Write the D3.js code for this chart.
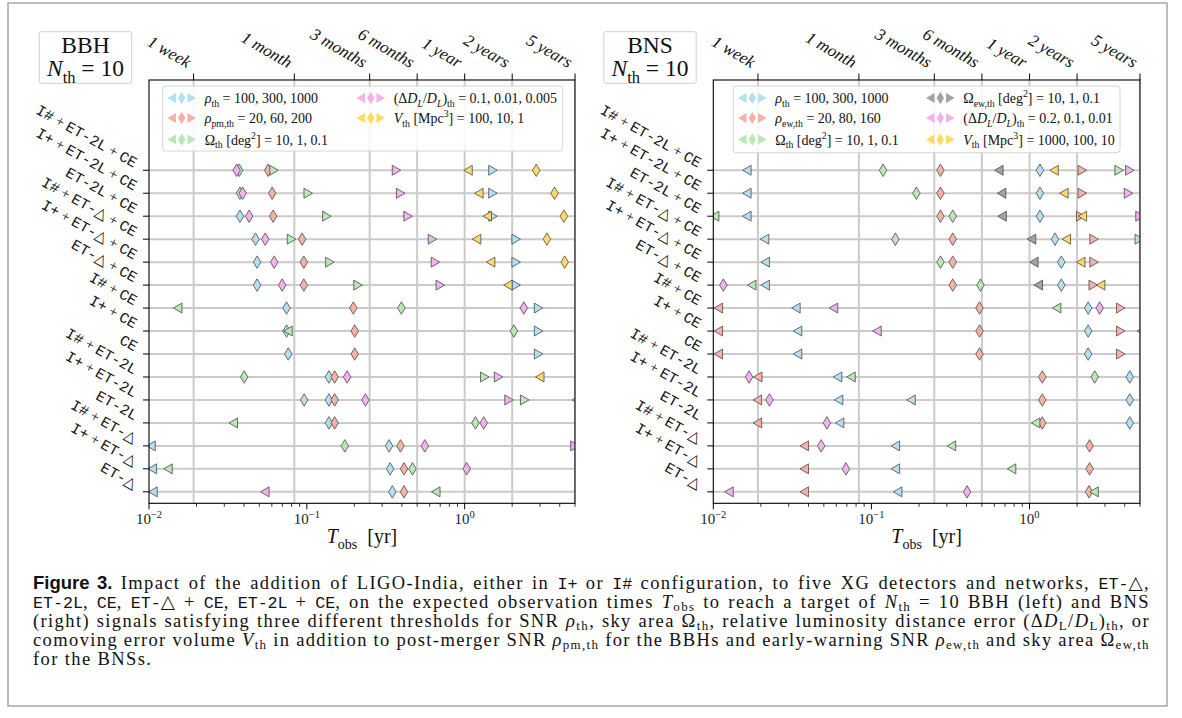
<!DOCTYPE html>
<html><head><meta charset="utf-8">
<script src="https://cdn.jsdelivr.net/npm/d3@7"></script>
<style>body{margin:0;background:#fff}</style>
</head><body><svg id="c" width="1182" height="718"></svg>
<script>
// ---------------- data ----------------
const rows = ["I# + ET-2L + CE", "I+ + ET-2L + CE", "ET-2L + CE", "I# + ET-△ + CE", "I+ + ET-△ + CE", "ET-△ + CE",
  "I# + CE", "I+ + CE", "CE", "I# + ET-2L", "I+ + ET-2L", "ET-2L", "I# + ET-△", "I+ + ET-△", "ET-△"];
const timeTicks = [7 / 365.25, 1 / 12, 0.25, 0.5, 1, 2, 5];
const timeLabels = ["1 week", "1 month", "3 months", "6 months", "1 year", "2 years", "5 years"];
const decadeTicks = [0.01, 0.1, 1];
const decadeLabels = ["10^{−2}", "10^{−1}", "10^{0}"];
const minorTicks = [0.02, 0.03, 0.04, 0.05, 0.06, 0.07, 0.08, 0.09, 0.2, 0.3, 0.4, 0.5, 0.6, 0.7, 0.8, 0.9, 2, 3, 4, 5];
const xDomain = [0.01, 5];

// BBH, each row: [first threshold (◁), second (◇), third (▷)], null = outside the plotted range
const bbhRho = [[null,0.0373,1.51],[null,0.0377,1.51],[null,0.0377,1.51],[null,0.0473,2.12],[null,0.0484,2.12],[null,0.0484,2.12],
  [null,0.0744,2.94],[null,0.0744,2.94],[null,0.0762,2.94],[null,0.138,null],[null,0.138,null],[null,0.138,null],
  [0.0103,0.332,null],[0.0105,0.337,null],[0.0106,0.348,null]];
const bbhRhoPm = [[null,0.0569,null],[null,0.0603,null],[null,0.0612,null],[null,0.0933,null],[null,0.0957,null],[null,0.0957,null],
  [null,0.197,null],[null,0.201,null],[null,0.201,null],[null,0.150,null],[null,0.150,null],[null,0.150,null],
  [null,0.392,null],[null,0.413,null],[null,0.413,null]];
const bbhOmega = [[null,null,0.062],[null,null,0.102],[null,null,0.134],[null,null,0.080],[null,null,0.140],[null,null,0.211],
  [0.0152,0.397,null],[0.076,2.05,null],[null,null,null],[null,0.0401,1.34],[null,0.0961,2.40],[0.0342,1.17,null],
  [null,0.174,null],[0.0132,0.467,null],[0.656,null,null]];
const bbhDL = [[null,0.0359,0.370],[null,0.0392,0.393],[null,0.0431,0.438],[null,0.0545,0.625],[null,0.0621,0.653],[null,0.0698,0.701],
  [null,2.37,null],[null,null,null],[null,null,null],[null,0.180,1.64],[null,0.235,1.91],[null,1.32,null],
  [null,0.559,5.0],[null,1.03,null],[0.0542,null,null]];
const bbhVol = [[1.05,2.84,null],[1.23,3.71,null],[1.39,4.25,null],[1.19,3.32,null],[1.46,4.30,null],[1.88,null,null],
  [null,null,null],[null,null,null],[null,null,null],[2.99,null,null],[5.1,null,null],[null,null,null],
  [null,null,null],[null,null,null],[null,null,null]];

// BNS
const bnsRho = [[0.0163,1.164,null],[0.0163,1.164,null],[0.0163,1.164,null],[0.0211,1.45,null],[0.0213,1.59,null],[0.0213,1.59,null],
  [0.0333,2.35,null],[0.0341,2.35,null],[0.0341,2.35,null],[0.0611,4.31,null],[0.0620,4.31,null],[0.0629,4.31,null],
  [0.1418,null,null],[0.1418,null,null],[0.1466,null,null]];
const bnsRhoEw = [[null,0.2733,2.16],[null,0.2733,2.16],[null,0.2733,2.11],[null,0.327,2.56],[null,0.327,2.56],[null,0.327,2.53],
  [0.01076,0.483,3.78],[0.01076,0.483,3.78],[0.01076,0.483,3.78],[0.0191,1.205,null],[0.0190,1.205,null],[0.0190,1.205,null],
  [0.0376,2.40,null],[0.0376,2.40,null],[0.0376,2.38,null]];
const bnsOmega = [[null,0.1185,3.69],[null,0.1926,null],[0.0102,0.327,null],[null,0.1418,4.95],[null,0.2733,null],[0.0175,0.490,null],
  [1.485,null,null],[5.1,null,null],[null,null,null],[0.0743,2.585,null],[0.178,null,null],[1.093,null,null],
  [0.321,null,null],[0.770,null,null],[2.56,null,null]];
const bnsOmegaEw = [[0.640,null,null],[0.666,null,null],[0.671,null,null],[1.03,null,null],[1.066,null,null],[1.137,null,null],
  [null,null,null],[null,null,null],[null,null,null],[null,null,null],[null,null,null],[null,null,null],
  [null,null,null],[null,null,null],[null,null,null]];
const bnsDL = [[null,null,4.31],[null,null,4.23],[null,null,5.0],[null,null,null],[null,null,null],[null,0.01157,null],
  [0.0576,2.78,null],[0.1085,null,null],[null,null,null],[null,0.01684,null],[null,0.02265,null],[null,0.0523,null],
  [null,0.0481,null],[null,0.069,null],[0.01257,0.403,null]];
const bnsVol = [[1.43,null,null],[1.65,null,null],[2.16,null,null],[1.71,null,null],[2.11,null,null],[2.82,null,null],
  [null,null,null],[null,null,null],[null,null,null],[null,null,null],[null,null,null],[null,null,null],
  [null,null,null],[null,null,null],[null,null,null]];

const bbhLegend = ["~ρ~_{th} = 100, 300, 1000", "~ρ~_{pm,th} = 20, 60, 200", "Ω_{th} [deg^{2}] = 10, 1, 0.1",
  "(Δ~D~_{~L~}/~D~_{~L~})_{th} = 0.1, 0.01, 0.005", "~V~_{th} [Mpc^{3}] = 100, 10, 1"];
const bnsLegend = ["~ρ~_{th} = 100, 300, 1000", "~ρ~_{ew,th} = 20, 80, 160", "Ω_{th} [deg^{2}] = 10, 1, 0.1",
  "Ω_{ew,th} [deg^{2}] = 10, 1, 0.1", "(Δ~D~_{~L~}/~D~_{~L~})_{th} = 0.2, 0.1, 0.01", "~V~_{th} [Mpc^{3}] = 1000, 100, 10"];

const caption = [
  "*Figure 3.* Impact of the addition of LIGO-India, either in `I+` or `I#` configuration, to five XG detectors and networks, `ET-`△,",
  "`ET-2L`, `CE`, `ET-`△ + `CE`, `ET-2L` + `CE`, on the expected observation times ~T~_{obs} to reach a target of ~N~_{th} = 10 BBH (left) and BNS",
  "(right) signals satisfying three different thresholds for SNR ~ρ~_{th}, sky area Ω_{th}, relative luminosity distance error (Δ~D~_{L}/~D~_{L})_{th}, or",
  "comoving error volume ~V~_{th} in addition to post-merger SNR ~ρ~_{pm,th} for the BBHs and early-warning SNR ~ρ~_{ew,th} and sky area Ω_{ew,th}",
  "for the BNSs."
];

// ---------------- style ----------------
const C = { blue: "#b3dff3", red: "#f8b2a5", green: "#b9e8b5", pink: "#f2b2f0", yellow: "#ffd966", grey: "#a3a3a3" };
const serif = "'Liberation Serif','DejaVu Serif',serif";
const sans = "'Liberation Sans','DejaVu Sans',sans-serif";
const mono = "'Liberation Mono','DejaVu Sans Mono',monospace";

const svg = d3.select("#c");

function parseMarkup(s, base = {}) {
  const out = []; let i = 0, buf = "";
  const flush = () => { if (buf) { out.push({ ...base, t: buf }); buf = ""; } };
  while (i < s.length) {
    const c = s[i];
    if ((c === "_" || c === "^") && s[i + 1] === "{") {
      flush();
      let depth = 0, j = i + 1;
      for (; j < s.length; j++) { if (s[j] === "{") depth++; else if (s[j] === "}") { depth--; if (depth === 0) break; } }
      out.push(...parseMarkup(s.slice(i + 2, j), { ...base, pos: c === "_" ? "sub" : "sup" }));
      i = j + 1;
    } else if (c === "~" || c === "`" || c === "*") {
      flush();
      const j = s.indexOf(c, i + 1);
      const key = c === "~" ? "it" : c === "`" ? "mono" : "bold";
      out.push(...parseMarkup(s.slice(i + 1, j), { ...base, [key]: true }));
      i = j + 1;
    } else { buf += c; i++; }
  }
  flush();
  return out;
}
function rich(t, str, fs, monoScale = 0.92, subShift = 0.28) {
  t.style("white-space", "pre");
  let cur = 0;
  parseMarkup(str).forEach(sg => {
    const target = sg.pos === "sub" ? subShift * fs : sg.pos === "sup" ? -0.4 * fs : 0;
    const ts = t.append("tspan").text(sg.t);
    if (target !== cur) { ts.attr("dy", target - cur); cur = target; }
    let size = sg.pos ? fs * 0.7 : fs;
    if (sg.mono) { ts.style("font-family", mono).style("letter-spacing", "0px"); size *= monoScale; }
    if (size !== fs) ts.style("font-size", size + "px");
    if (sg.it) ts.style("font-style", "italic");
    if (sg.bold) ts.style("font-weight", "bold").style("font-family", sans).style("letter-spacing", "0px");
  });
}
function markerPath(k) {
  const tw = 8.5, th = 10, dw = 7.5, dh = 12.5;
  if (k === 0) return `M${-tw / 2},0L${tw / 2},${-th / 2}L${tw / 2},${th / 2}Z`;
  if (k === 1) return `M0,${-dh / 2}L${dw / 2},0L0,${dh / 2}L${-dw / 2},0Z`;
  return `M${tw / 2},0L${-tw / 2},${-th / 2}L${-tw / 2},${th / 2}Z`;
}
function rowMarkup(r) {
  return r.split(" + ").map(p => p.replace(/([^△]+)/g, "`$1`")).join(" + ");
}

const yTop = 80, yBot = 503.3;
const y = d3.scaleLinear().domain([-0.5, 17.93]).range([yBot, yTop]);
const rowY = i => y(rows.length - 1 - i);

const panels = [
  { id: "bbh", x0: 149, x1: 575, title: "BBH", box: [39.3, 31.7, 92.4, 51.6],
    series: [[bbhRho, C.blue], [bbhRhoPm, C.red], [bbhOmega, C.green], [bbhDL, C.pink], [bbhVol, C.yellow]],
    legend: bbhLegend, legBox: [162.7, 86, 400, 65], col2: 189 },
  { id: "bns", x0: 713.3, x1: 1140, title: "BNS", box: [603.8, 31.7, 92.4, 51.6],
    series: [[bnsRho, C.blue], [bnsRhoEw, C.red], [bnsOmega, C.green], [bnsOmegaEw, C.grey], [bnsDL, C.pink], [bnsVol, C.yellow]],
    legend: bnsLegend, legBox: [733.3, 86, 386.7, 66.7], col2: 188 }
];

// outer frame
svg.append("rect").attr("x", 8).attr("y", 3).attr("width", 1159).attr("height", 703)
  .attr("fill", "none").attr("stroke", "#a6a6a6").attr("stroke-width", 1.5);

panels.forEach(P => {
  const x = d3.scaleLog().domain(xDomain).range([P.x0, P.x1]);
  const g = svg.append("g");
  const clipId = "clip-" + P.id;
  svg.append("clipPath").attr("id", clipId).append("rect")
    .attr("x", P.x0).attr("y", yTop).attr("width", P.x1 - P.x0).attr("height", yBot - yTop);

  // grid
  const grid = g.append("g").attr("stroke", "#cbcbcb").attr("stroke-width", 2).attr("clip-path", `url(#${clipId})`);
  grid.selectAll("line.v").data(timeTicks).join("line").attr("class", "v")
    .attr("x1", d => x(d)).attr("x2", d => x(d)).attr("y1", yTop).attr("y2", yBot);
  grid.selectAll("line.h").data(rows).join("line").attr("class", "h")
    .attr("x1", P.x0).attr("x2", P.x1).attr("y1", (d, i) => rowY(i)).attr("y2", (d, i) => rowY(i));

  // markers
  const pts = P.series.flatMap(([vals, color]) => vals.flatMap((r, ri) => r.map((val, k) => ({ val, k, ri, color }))))
    .filter(d => d.val != null);
  g.append("g").attr("clip-path", `url(#${clipId})`).selectAll("path").data(pts).join("path")
    .attr("d", d => markerPath(d.k))
    .attr("transform", d => `translate(${x(d.val)},${rowY(d.ri)})`)
    .attr("fill", d => d.color).attr("stroke", "#4a4a4a").attr("stroke-width", 0.8);

  // legend
  const [lx, ly, lw, lh] = P.legBox;
  const lg = g.append("g");
  lg.append("rect").attr("x", lx).attr("y", ly).attr("width", lw).attr("height", lh).attr("rx", 3)
    .attr("fill", "#fff").attr("fill-opacity", 0.85).attr("stroke", "#d6d6d6").attr("stroke-width", 1);
  const legRowY = [98, 118, 139.5];
  P.legend.forEach((lab, k) => {
    const col = Math.floor(k / 3), r = k % 3;
    const cx = lx + 19 + col * P.col2, cy = legRowY[r];
    [0, 1, 2].forEach(m => lg.append("path").attr("d", markerPath(m))
      .attr("transform", `translate(${cx + (m - 1) * 10},${cy})`).attr("fill", P.series[k][1]));
    const t = lg.append("text").attr("x", cx + 23).attr("y", cy + 5)
      .style("font-family", serif).style("font-size", "14px").attr("fill", "#111");
    rich(t, lab, 14);
  });

  // frame
  g.append("rect").attr("x", P.x0).attr("y", yTop).attr("width", P.x1 - P.x0).attr("height", yBot - yTop)
    .attr("fill", "none").attr("stroke", "#000").attr("stroke-width", 1.1);

  // ticks
  const ax = g.append("g").attr("stroke", "#000").attr("stroke-width", 1);
  ax.selectAll("line.maj").data(decadeTicks).join("line").attr("class", "maj")
    .attr("x1", d => x(d)).attr("x2", d => x(d)).attr("y1", yBot).attr("y2", yBot + 6);
  ax.selectAll("line.min").data(minorTicks).join("line").attr("class", "min")
    .attr("x1", d => x(d)).attr("x2", d => x(d)).attr("y1", yBot).attr("y2", yBot + 3.5).attr("stroke-width", 0.8);
  ax.selectAll("line.top").data(timeTicks).join("line").attr("class", "top")
    .attr("x1", d => x(d)).attr("x2", d => x(d)).attr("y1", yTop).attr("y2", yTop - 6.5);
  ax.selectAll("line.yt").data(rows).join("line").attr("class", "yt")
    .attr("x1", P.x0).attr("x2", P.x0 - 6).attr("y1", (d, i) => rowY(i)).attr("y2", (d, i) => rowY(i));

  decadeTicks.forEach((d, i) => {
    const t = g.append("text").attr("x", x(d)).attr("y", yBot + 21).attr("text-anchor", "middle")
      .style("font-family", serif).style("font-size", "15px").attr("fill", "#222");
    rich(t, decadeLabels[i], 15);
  });
  const at = g.append("text").attr("x", (P.x0 + P.x1) / 2).attr("y", 543).attr("text-anchor", "middle")
    .style("font-family", serif).style("font-size", "20px").attr("fill", "#111");
  rich(at, "~T~_{obs}  [yr]", 20);

  // top rotated labels
  timeTicks.forEach((d, i) => {
    const lgp = g.append("g");
    lgp.append("text").attr("transform", "rotate(30)").style("font-family", serif)
      .style("font-size", "17px").style("font-style", "italic").attr("fill", "#111").text(timeLabels[i]);
    const bb = lgp.node().getBBox();
    lgp.attr("transform", `translate(${x(d) + 1 - (bb.x + bb.width)},${yTop - 8 - (bb.y + bb.height)})`);
  });

  // y labels rotated
  rows.forEach((r, i) => {
    const lgp = g.append("g");
    const t = lgp.append("text").attr("transform", "rotate(29)").style("font-family", serif)
      .style("font-size", "15px").attr("fill", "#111");
    rich(t, rowMarkup(r), 15, 1);
    const bb = lgp.node().getBBox();
    lgp.attr("transform", `translate(${P.x0 - 9 - (bb.x + bb.width)},${rowY(i) + 2 - (bb.y + bb.height)})`);
  });

  // title box
  const [bx, by, bw, bh] = P.box;
  g.append("rect").attr("x", bx).attr("y", by).attr("width", bw).attr("height", bh).attr("rx", 2)
    .attr("fill", "#fff").attr("stroke", "#cfcfcf");
  g.append("text").attr("x", bx + bw / 2).attr("y", by + 21).attr("text-anchor", "middle")
    .style("font-family", serif).style("font-size", "23.5px").attr("fill", "#111").text(P.title);
  const nt = g.append("text").attr("x", bx + bw / 2).attr("y", by + 44.5).attr("text-anchor", "middle")
    .style("font-family", serif).style("font-size", "23.5px").attr("fill", "#111");
  rich(nt, "~N~_{th} = 10", 23.5);
});

// caption: 18.5px text, slight letter-spacing so the first line fits, then justified by word spacing
const capX = 33, capW = 1117, capFs = 18.5;
const probe = svg.append("text").style("font-family", serif).style("font-size", capFs + "px");
rich(probe, caption[0], capFs, 0.9, 0.18);
const w0 = probe.node().getComputedTextLength();
const n0 = probe.node().getNumberOfChars();
probe.remove();
const ls = Math.max(0, (capW - 24 - w0) / n0);
caption.forEach((line, i) => {
  const t = svg.append("text").attr("x", capX).attr("y", 589 + i * 19)
    .style("font-family", serif).style("font-size", capFs + "px").style("letter-spacing", ls + "px").attr("fill", "#111");
  rich(t, line, capFs, 0.9, 0.18);
  if (i < caption.length - 1) {
    const w = t.node().getComputedTextLength();
    const nSp = (line.match(/ /g) || []).length;
    if (nSp) t.attr("word-spacing", (capW - w) / nSp);
  }
});
</script></body></html>
